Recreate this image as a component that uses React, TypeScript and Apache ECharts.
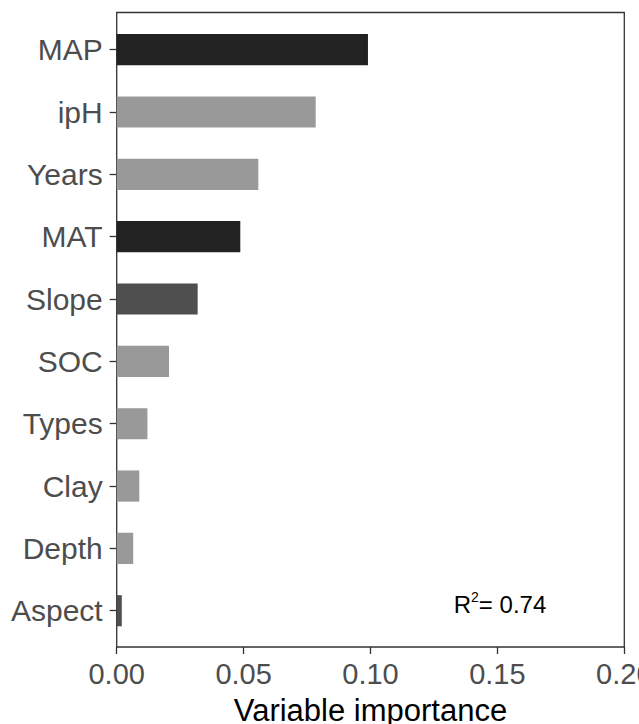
import React, { useEffect, useRef } from "react";
import * as echarts from "echarts";

const categories = ["MAP", "ipH", "Years", "MAT", "Slope", "SOC", "Types", "Clay", "Depth", "Aspect"];
const importance = [0.099, 0.0784, 0.0558, 0.0487, 0.0319, 0.0206, 0.0121, 0.0089, 0.0065, 0.002];
const barColors = ["#222222", "#999999", "#999999", "#222222", "#4f4f4f", "#999999", "#999999", "#999999", "#999999", "#4f4f4f"];
const xTicks = [0, 0.05, 0.1, 0.15, 0.2];
const r2Label = "0.74";

const FONT = "'Liberation Sans', Arial, Helvetica, sans-serif";

export default function App() {
  const ref = useRef<HTMLDivElement>(null);
  useEffect(() => {
    if (!ref.current) return;
    const chart = echarts.init(ref.current, null, { renderer: "svg" });
    chart.setOption({
      animation: false,
      backgroundColor: "#ffffff",
      grid: [
        { left: 116.7, right: 14.7, top: 12.5, bottom: 77, show: true, borderColor: "#333333", borderWidth: 1.3, backgroundColor: "transparent", containLabel: false, outerBoundsMode: "none" },
        { left: 116.7, right: 14.7, top: 18.5, bottom: 82.1, containLabel: false, outerBoundsMode: "none" },
      ],
      xAxis: [
        {
          type: "value",
          gridIndex: 0,
          min: xTicks[0],
          max: xTicks[xTicks.length - 1],
          interval: 0.05,
          splitLine: { show: false },
          axisLine: { show: false },
          axisTick: { show: true, length: 7, lineStyle: { color: "#333333", width: 1.3 } },
          axisLabel: {
            show: true,
            margin: 12,
            color: "#4d4d4d",
            fontSize: 29,
            fontFamily: FONT,
            showMaxLabel: true,
            showMinLabel: true,
            formatter: (v: number) => v.toFixed(2),
          },
          name: "Variable importance",
          nameLocation: "middle",
          nameGap: 48,
          nameTextStyle: { color: "#000000", fontSize: 31, fontFamily: FONT },
        },
        {
          type: "value",
          gridIndex: 1,
          min: xTicks[0],
          max: xTicks[xTicks.length - 1],
          show: false,
          splitLine: { show: false },
        },
      ],
      yAxis: [
        { type: "value", gridIndex: 0, show: false, splitLine: { show: false } },
        {
          type: "category",
          gridIndex: 1,
          data: categories,
          inverse: true,
          axisLine: { show: false },
          axisTick: { show: true, alignWithLabel: true, length: 7, lineStyle: { color: "#333333", width: 1.3 } },
          axisLabel: { color: "#4d4d4d", fontSize: 30, fontFamily: FONT, margin: 14 },
          splitLine: { show: false },
        },
      ],
      series: [
        {
          type: "bar",
          xAxisIndex: 1,
          yAxisIndex: 1,
          barWidth: "50%",
          data: importance.map((v, i) => ({ value: v, itemStyle: { color: barColors[i] } })),
        },
      ],
      graphic: [
        {
          type: "text",
          x: 500,
          y: 604,
          style: {
            text: "{a|R}{b|2}{a|= " + r2Label + "}",
            align: "center",
            verticalAlign: "middle",
            fill: "#000000",
            fontFamily: FONT,
            rich: {
              a: { fontSize: 24, fontFamily: FONT, fill: "#000000", lineHeight: 28 },
              b: { fontSize: 14, fontFamily: FONT, fill: "#000000", verticalAlign: "top", lineHeight: 28, padding: [0, 0, 10, 0] },
            },
          },
        },
      ],
    });
    return () => chart.dispose();
  }, []);
  return <div ref={ref} style={{ position: "absolute", left: 0, top: 0, width: 639, height: 724 }} />;
}
